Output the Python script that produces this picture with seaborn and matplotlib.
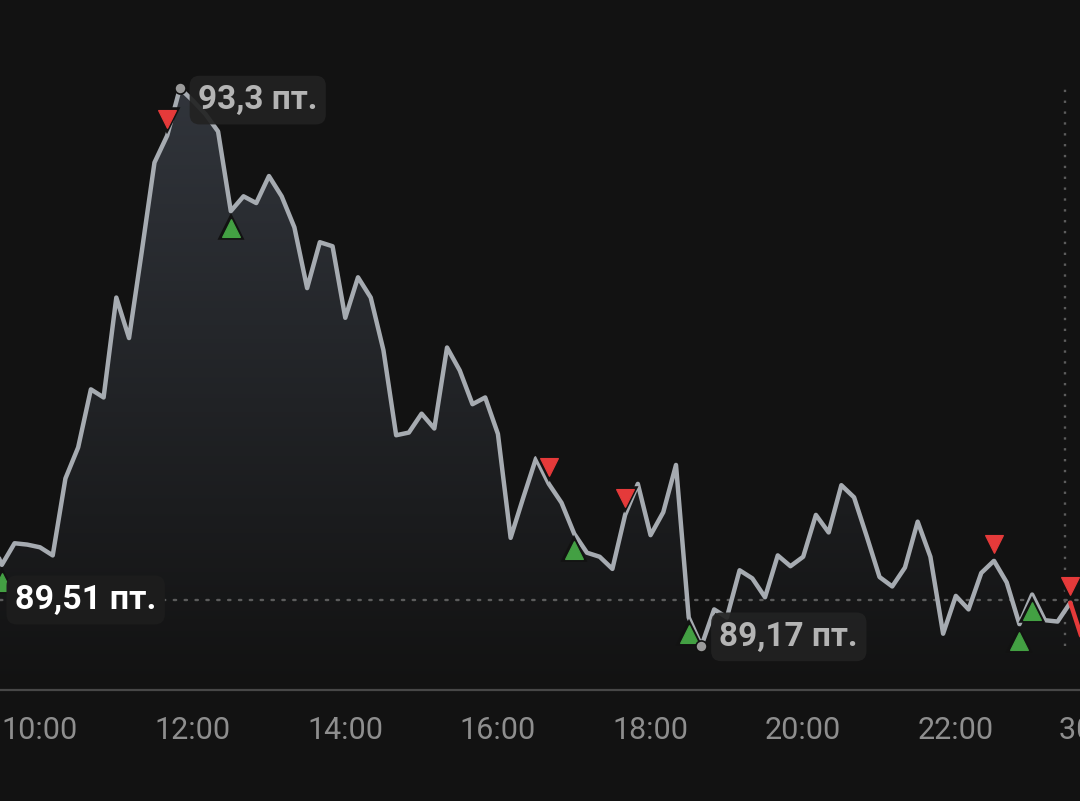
import numpy as np
import pandas as pd
import matplotlib
matplotlib.use("Agg")
import matplotlib.pyplot as plt
import seaborn as sns
from matplotlib.patches import Polygon
from matplotlib.colors import LinearSegmentedColormap
from matplotlib.transforms import offset_copy, blended_transform_factory

# ---------------- data ----------------
start_time = "09:20"
end_time = "23:40"
times = pd.date_range(f"2000-01-01 {start_time}", f"2000-01-01 {end_time}", freq="10min").strftime("%H:%M").tolist()
values = [
    89.99, 89.77, 89.93, 89.92, 89.90, 89.84, 90.41, 90.64, 91.07, 91.01,   # 09:20-10:50
    91.75, 91.45, 92.09, 92.75, 92.95, 93.30, 93.21, 93.11, 92.98, 92.39,   # 11:00-12:30
    92.50, 92.45, 92.65, 92.50, 92.27, 91.82, 92.16, 92.13, 91.60, 91.90,   # 12:40-14:10
    91.75, 91.36, 90.73, 90.75, 90.89, 90.78, 91.38, 91.21, 90.96, 91.01,   # 14:20-15:50
    90.74, 89.97, 90.27, 90.56, 90.37, 90.23, 90.00, 89.86, 89.83, 89.74,   # 16:00-17:30
    90.14, 90.37, 89.99, 90.16, 90.51, 89.38, 89.17, 89.44, 89.38, 89.73,   # 17:40-19:10
    89.67, 89.53, 89.84, 89.76, 89.83, 90.14, 90.01, 90.36, 90.27, 89.98,   # 19:20-20:50
    89.68, 89.61, 89.75, 90.09, 89.83, 89.26, 89.54, 89.44, 89.71, 89.80,   # 21:00-22:30
    89.64, 89.33, 89.55, 89.36, 89.35, 89.49, 89.20,                        # 22:40-23:40
]
buy_times = ["09:30", "12:30", "17:00", "18:30", "22:50", "23:00"]
sell_times = ["11:40", "16:40", "17:40", "22:30", "23:30"]
prev_close = 89.51
prev_close_label = "89,51 пт."
max_label = "93,3 пт."
min_label = "89,17 пт."
range_marker_time = "23:26"
tick_hours = [10, 12, 14, 16, 18, 20, 22]
tick_labels = ["10:00", "12:00", "14:00", "16:00", "18:00", "20:00", "22:00"]
next_day_hour = 24
next_day_label = "30 окт."

# ---------------- styling ----------------
BG = "#121212"
LINE = "#a6abb1"
GREEN = "#43a043"
RED = "#e53a3a"
DOT = "#9a9a9a"
TICK = "#8e8e8e"

sns.set_theme(style="dark")
plt.rcParams["font.family"] = ["Roboto", "DejaVu Sans"]


def to_hours(t):
    h, m = t.split(":")
    return int(h) + int(m) / 60.0


df = pd.DataFrame({"time": times, "value": values})
df["h"] = df["time"].map(to_hours)

fig = plt.figure(figsize=(10.8, 8.01), dpi=100, facecolor=BG)
ax = fig.add_axes([0, 111 / 801, 1, 690 / 801])
ax.set_facecolor(BG)

x_left, x_right = 9.4759, 23.627
y_bottom, y_top = 88.843, 93.954

# gradient area under the line
poly_xy = np.column_stack([
    np.concatenate([[df["h"].iloc[0]], df["h"].values, [df["h"].iloc[-1]]]),
    np.concatenate([[y_bottom], df["value"].values, [y_bottom]]),
])
poly = Polygon(poly_xy, closed=True, facecolor="none", edgecolor="none")
ax.add_patch(poly)
cmap = LinearSegmentedColormap.from_list("fade", [BG, "#33373e"])
grad = np.linspace(1, 0, 256).reshape(-1, 1)
im = ax.imshow(grad, extent=[x_left, x_right, y_bottom, 93.6], aspect="auto",
               cmap=cmap, origin="upper", zorder=1, interpolation="bicubic")
im.set_clip_path(poly)
ax.set_xlim(x_left, x_right)
ax.set_ylim(y_bottom, y_top)

# previous close dotted line
ax.axhline(prev_close, color="#5c5c5c", linewidth=1.7, linestyle=(0, (1, 3.6)),
           dash_capstyle="round", zorder=2)

# range dotted vertical line
ax.vlines(to_hours(range_marker_time), min(values), max(values), color="#5c5c5c",
          linewidth=1.7, linestyles=[(0, (1, 3.6))], zorder=2)

# main line
main = df.iloc[:-1]
sns.lineplot(data=main, x="h", y="value", ax=ax, color=LINE, linewidth=3.2,
             zorder=3, sort=False, estimator=None)
for l in ax.lines:
    l.set_solid_joinstyle("round")
    l.set_solid_capstyle("round")
last = df.iloc[-2:]
sns.lineplot(data=last, x="h", y="value", ax=ax, color=RED, linewidth=3.2,
             zorder=3, sort=False, estimator=None)

# buy / sell markers (dark outline layer + coloured face)
val_by_time = dict(zip(df["time"], df["value"]))
down_tr = offset_copy(ax.transData, fig=fig, x=0, y=-12, units="points")
up_tr = offset_copy(ax.transData, fig=fig, x=0, y=12, units="points")
bx_h = [to_hours(t) for t in buy_times]
bx_v = [val_by_time[t] for t in buy_times]
sx_h = [to_hours(t) for t in sell_times]
sx_v = [val_by_time[t] for t in sell_times]
for hs, vs, mk, col, tr in ((bx_h, bx_v, "^", GREEN, down_tr), (sx_h, sx_v, "v", RED, up_tr)):
    ax.plot(hs, vs, linestyle="none", marker=mk, markersize=13.5, color=BG,
            markeredgecolor=BG, markeredgewidth=4, transform=tr, zorder=5)
    ax.plot(hs, vs, linestyle="none", marker=mk, markersize=13.5, color=col,
            markeredgecolor=col, markeredgewidth=0.8, transform=tr, zorder=5.1)

# max / min dots and labels
imax = int(np.argmax(values))
imin = int(np.argmin(values))
for i in (imax, imin):
    ax.plot(df["h"].iloc[i], values[i], marker="o", markersize=8, color=DOT,
            markeredgecolor=BG, markeredgewidth=1.2, zorder=6)

box_kw = dict(boxstyle="round,pad=0.25,rounding_size=0.3", fc="#222222", ec="none", alpha=0.92)
ax.annotate(max_label, xy=(df["h"].iloc[imax], values[imax]), xytext=(13, -8.5),
            textcoords="offset points", ha="left", va="center", fontsize=24,
            fontweight="bold", color="#b4b4b4", bbox=box_kw, zorder=7)
ax.annotate(min_label, xy=(df["h"].iloc[imin], values[imin]), xytext=(13, 6.5),
            textcoords="offset points", ha="left", va="center", fontsize=24,
            fontweight="bold", color="#b4b4b4", bbox=box_kw, zorder=7)

bl = blended_transform_factory(ax.transAxes, ax.transData)
ax.text(15 / 1080, prev_close, prev_close_label, transform=bl, ha="left", va="center",
        fontsize=24.5, fontweight="bold", color="white",
        bbox=dict(boxstyle="round,pad=0.25,rounding_size=0.3", fc="#1c1c1c", ec="none"),
        zorder=7)

# axes
for s in ("left", "right", "top"):
    ax.spines[s].set_visible(False)
ax.spines["bottom"].set_visible(True)
ax.spines["bottom"].set_color("#474747")
ax.spines["bottom"].set_linewidth(1.6)
ax.set_yticks([])
ax.set_xticks(tick_hours)
ax.set_xticklabels(tick_labels)
ax.tick_params(axis="x", length=0, pad=19, labelsize=22, labelcolor=TICK)
ax.set_xlabel("")
ax.set_ylabel("")
ax.grid(False)

bx = blended_transform_factory(ax.transData, ax.transAxes)
ax.text(next_day_hour, 0, next_day_label, transform=offset_copy(bx, fig=fig, x=0, y=-19, units="points"),
        ha="center", va="top", fontsize=22, color=TICK, clip_on=False)

fig.savefig("out.png", dpi=100, facecolor=BG)
